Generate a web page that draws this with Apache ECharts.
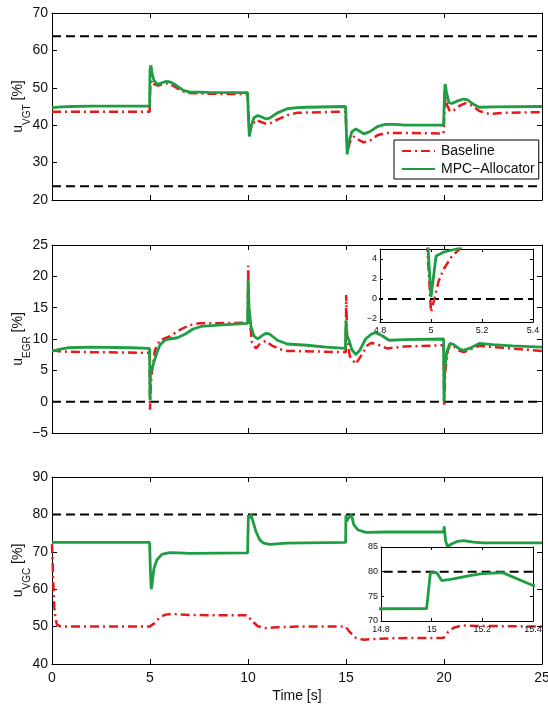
<!DOCTYPE html>
<html>
<head>
<meta charset="utf-8">
<title>u_VGT / u_EGR / u_VGC</title>
<script src="https://cdn.jsdelivr.net/npm/echarts@6.0.0/dist/echarts.min.js"></script>
<style>
html, body { margin: 0; padding: 0; background: #fff; }
#chart { width: 548px; height: 704px; }
</style>
</head>
<body>
<div id="chart"></div>
<script>
// values, pairs of [time s, value %]
var vgt_base = [[0,43.6],[4.98,43.6],[5.02,51],[5.1,52],[5.2,51],[5.4,50.6],[5.7,51],[5.9,51.2],[6.2,50.5],[6.6,49.2],[7,48.6],[8,48.4],[9.98,48.3],
	[10.03,42],[10.08,38],[10.2,40],[10.4,41.4],[10.6,41.0],[10.9,40.4],[11.1,40.4],[11.5,41.5],[12,42.7],[12.5,43.3],[13,43.4],[14.98,43.6],
	[15.03,37],[15.08,33],[15.2,35.5],[15.4,37],[15.6,36.2],[15.9,35.4],[16.2,35.8],[16.6,37.3],[17,37.9],[18,37.9],[19.98,37.8],
	[20.03,45],[20.08,47.8],[20.15,45.5],[20.3,43.7],[20.5,44],[20.8,45.2],[21.1,45.9],[21.4,45.3],[21.8,43.8],[22.3,43.0],[23,43.3],[25,43.5]];
var vgt_mpc = [[0,44.7],[0.5,44.9],[1,45.0],[2,45.1],[4.98,45.1],[5.0,55],[5.05,56],[5.1,54],[5.2,52],[5.35,51],[5.55,51.2],[5.8,51.7],[6.0,51.6],[6.3,50.8],[6.7,49.3],[7.0,48.9],[8,48.8],[9.98,48.7],
	[10.02,42],[10.07,37],[10.15,39.5],[10.3,42],[10.5,42.6],[10.7,42.2],[10.9,41.7],[11.1,41.9],[11.5,43.3],[12,44.4],[12.5,44.7],[13,44.8],[14.98,45.0],
	[15.02,38],[15.06,32.2],[15.12,35],[15.3,38.3],[15.5,39],[15.7,38.4],[15.9,37.7],[16.2,38.2],[16.6,39.6],[17,40.2],[17.5,40.2],[18,40.0],[19.98,40.0],
	[20.02,48],[20.06,51],[20.12,49],[20.25,46],[20.4,45.8],[20.7,46.5],[21,47],[21.2,46.8],[21.5,45.6],[21.8,44.8],[22.5,44.9],[25,45]];
var vgt_limits = [23.7, 63.8];

var egr_base = [[0,8.2],[0.5,8.0],[2,7.9],[4.98,7.8],[5.0,-1.3],[5.015,0.2],[5.03,1.8],[5.05,3.0],[5.08,4.2],[5.12,5.2],[5.25,8.2],[5.5,9.8],[6.0,10.4],[6.5,11.4],[7.0,12.2],[7.5,12.5],[9.99,12.6],
	[10.01,21.7],[10.06,14],[10.2,9.5],[10.4,8.5],[10.6,9.2],[10.9,9.7],[11.2,9.0],[11.6,8.4],[12,8.1],[14.99,7.9],
	[15.01,17],[15.06,10],[15.2,7.2],[15.5,6.0],[15.8,7.5],[16.1,9.0],[16.3,9.4],[16.7,9.0],[17.1,8.5],[18,8.8],[19.98,9.0],
	[20.01,-0.5],[20.07,5],[20.2,8.2],[20.3,9.0],[20.5,8.8],[20.8,8.1],[21.0,7.9],[21.3,8.3],[21.8,8.9],[23,8.6],[25,8.1]];
var egr_mpc = [[0,8.0],[0.3,8.3],[0.8,8.6],[2,8.7],[4,8.6],[4.98,8.5],[5.0,0.2],[5.02,4.3],[5.05,4.7],[5.1,5.0],[5.2,6.3],[5.35,7.8],[5.5,9.0],[5.75,9.8],[6.0,10.0],[6.4,10.2],[6.8,10.8],[7.2,11.6],[7.6,12.0],[8.5,12.2],[9.98,12.5],
	[10.01,19.5],[10.05,15],[10.15,12],[10.3,10.5],[10.5,10.0],[10.7,10.5],[10.9,10.9],[11.1,10.8],[11.5,9.8],[12,9.2],[13,9.0],[14,8.7],[14.97,8.5],
	[15.0,13],[15.04,10.6],[15.15,9.8],[15.3,8.3],[15.5,7.5],[15.7,8.2],[16.0,10.0],[16.3,10.8],[16.5,11.0],[16.8,10.6],[17.2,9.8],[18,9.9],[19.98,10.0],
	[20.0,0.1],[20.04,5.5],[20.15,8.0],[20.3,9.3],[20.5,9.1],[20.8,8.4],[21.0,8.2],[21.3,8.5],[21.8,9.3],[22.5,9.1],[23.5,8.9],[25,8.7]];
var egr_limits = [0];

var vgc_base = [[0,72],[0.04,66],[0.08,60],[0.12,55],[0.18,52],[0.25,50.6],[0.4,50.1],[0.6,50],[4.98,50],[5.2,50.8],[5.5,52.5],[5.8,53.2],[6.1,53.4],[7,53.1],[9.98,53],
	[10.2,51.5],[10.5,50.1],[10.9,49.6],[11.5,49.8],[12.5,50],[14.98,50],[15.2,48.5],[15.5,47],[15.9,46.5],[16.5,46.7],[17.5,46.9],[19.98,47],
	[20.2,48.5],[20.5,49.7],[20.9,50.3],[21.5,50.2],[25,50]];
var vgc_mpc = [[0,72.5],[4.98,72.5],[5.02,65],[5.06,60],[5.1,61],[5.2,65.5],[5.35,67.8],[5.6,69.3],[6.0,69.8],[6.5,69.7],[7,69.6],[9.98,69.7],
	[10.02,79.8],[10.08,79],[10.15,80],[10.22,79.5],[10.4,75.5],[10.6,73.2],[10.8,72.3],[11.1,72.0],[12,72.3],[14.98,72.5],
	[14.995,79.8],[15.02,79.8],[15.04,78.2],[15.08,78.5],[15.15,79.2],[15.2,79.6],[15.28,79.8],[15.4,77.2],[15.6,75.9],[16,75.2],[17,75.3],[19.98,75.3],
	[20.01,76.8],[20.08,73],[20.18,71.3],[20.35,72],[20.7,72.8],[21,73],[21.5,72.6],[22,72.4],[25,72.4]];
var vgc_limits = [80];

var time_range = [0, 25];
var egr_zoom_x = [4.8, 5, 5.2, 5.4];
var egr_zoom_y = [-2, 0, 2, 4];
var vgc_zoom_x = [14.8, 15, 15.2, 15.4];
var vgc_zoom_y = [70, 75, 80, 85];

var FONT = '"Liberation Sans", Arial, Helvetica, sans-serif';
var RED = '#e8191c';
var GREEN = '#1f9d43';

window.onload = function(){
	var x_axes = [];
	var y_axes = [];
	var series = [];

	function fmt(v){
		return String(+v.toFixed(2)).replace('-', '\u2212');
	}

	// one box: bottom/left axes carry labels, top/right only the inward ticks
	function add_box(grid, xc, yc, big, z){
		var tick = {inside: true, length: big ? 5 : 3, lineStyle: {color: '#000', width: 1}};
		var line = {show: true, onZero: false, lineStyle: {color: '#000', width: 1}};
		var fs = big ? 14 : 9;
		var xt = JSON.parse(JSON.stringify(tick));
		var yt = JSON.parse(JSON.stringify(tick));
		if (xc.custom) xt.customValues = xc.custom;
		if (yc.custom) yt.customValues = yc.custom;
		var xl = {show: xc.labels, fontSize: fs, color: '#111', fontFamily: FONT, margin: big ? 7 : 4, formatter: fmt};
		var yl = {show: true, fontSize: fs, color: '#111', fontFamily: FONT, margin: big ? 4 : 3, formatter: fmt};
		if (xc.custom) xl.customValues = xc.custom;
		if (yc.custom) yl.customValues = yc.custom;
		var xi = x_axes.length;
		var yi = y_axes.length;
		x_axes.push({type: 'value', gridIndex: grid, position: 'bottom', min: xc.min, max: xc.max, interval: xc.interval, z: z,
			axisLine: line, axisTick: xt, axisLabel: xl, splitLine: {show: false},
			name: xc.name || '', nameLocation: 'middle', nameGap: 25, nameMoveOverlap: false,
			nameTextStyle: {fontSize: 14, color: '#111', fontFamily: FONT}});
		x_axes.push({type: 'value', gridIndex: grid, position: 'top', min: xc.min, max: xc.max, interval: xc.interval, z: z,
			axisLine: line, axisTick: xt, axisLabel: {show: false}, splitLine: {show: false}});
		y_axes.push({type: 'value', gridIndex: grid, position: 'left', min: yc.min, max: yc.max, interval: yc.interval, z: z,
			axisLine: line, axisTick: yt, axisLabel: yl, splitLine: {show: false},
			name: yc.name || '', nameLocation: 'middle', nameRotate: 90, nameGap: 20, nameMoveOverlap: false,
			nameTextStyle: {fontFamily: FONT, color: '#111', rich: {
				u: {fontSize: 14, fontFamily: FONT, color: '#111'},
				s: {fontSize: 10, fontFamily: FONT, color: '#111', padding: [17, 0, 0, 0]}
			}}});
		y_axes.push({type: 'value', gridIndex: grid, position: 'right', min: yc.min, max: yc.max, interval: yc.interval, z: z,
			axisLine: line, axisTick: yt, axisLabel: {show: false}, splitLine: {show: false}});
		return [xi, yi];
	}

	function add_lines(ax, base, mpc, limits, z){
		limits.forEach(function(v){
			series.push({name: 'limit', type: 'line', xAxisIndex: ax[0], yAxisIndex: ax[1], z: z,
				data: [[time_range[0], v], [time_range[1], v]], symbol: 'none', silent: true,
				lineStyle: {color: '#000', width: 2, type: [9, 5]}});
		});
		series.push({name: 'Baseline', type: 'line', xAxisIndex: ax[0], yAxisIndex: ax[1], z: z,
			data: base, symbol: 'none', itemStyle: {color: RED},
			lineStyle: {color: RED, width: 2.5, type: [9, 4, 2, 4]}});
		series.push({name: 'MPC\u2212Allocator', type: 'line', xAxisIndex: ax[0], yAxisIndex: ax[1], z: z,
			data: mpc, symbol: 'none', itemStyle: {color: GREEN},
			lineStyle: {color: GREEN, width: 2.8}});
	}

	var grids = [
		{left: 52, top: 13, width: 490, height: 187, outerBoundsMode: 'none'},
		{left: 52, top: 245, width: 490, height: 188, outerBoundsMode: 'none'},
		{left: 52, top: 477, width: 490, height: 187, outerBoundsMode: 'none'},
		{left: 380, top: 249, width: 153, height: 73, outerBoundsMode: 'none', show: true, backgroundColor: '#fff', borderWidth: 0, z: 3},
		{left: 381, top: 547, width: 152, height: 74, outerBoundsMode: 'none', show: true, backgroundColor: '#fff', borderWidth: 0, z: 3}
	];

	var a0 = add_box(0, {min: time_range[0], max: time_range[1], interval: 5, labels: false},
		{min: 20, max: 70, interval: 10, name: '{u|u}{s|VGT}{u| [%]}'}, true, 0);
	var a1 = add_box(1, {min: time_range[0], max: time_range[1], interval: 5, labels: false},
		{min: -5, max: 25, interval: 5, name: '{u|u}{s|EGR}{u| [%]}'}, true, 0);
	var a2 = add_box(2, {min: time_range[0], max: time_range[1], interval: 5, labels: true, name: 'Time [s]'},
		{min: 40, max: 90, interval: 10, name: '{u|u}{s|VGC}{u| [%]}'}, true, 0);
	var a3 = add_box(3, {min: 4.8, max: 5.4, labels: true, custom: egr_zoom_x},
		{min: -2.3, max: 5, custom: egr_zoom_y}, false, 4);
	var a4 = add_box(4, {min: 14.8, max: 15.4, labels: true, custom: vgc_zoom_x},
		{min: 70, max: 85, custom: vgc_zoom_y}, false, 4);

	add_lines(a0, vgt_base, vgt_mpc, vgt_limits, 2);
	add_lines(a1, egr_base, egr_mpc, egr_limits, 2);
	add_lines(a2, vgc_base, vgc_mpc, vgc_limits, 2);
	add_lines(a3, egr_base, egr_mpc, egr_limits, 5);
	add_lines(a4, vgc_base, vgc_mpc, vgc_limits, 5);

	var chart = echarts.init(document.getElementById('chart'), null, {renderer: 'canvas'});
	chart.setOption({
		animation: false,
		backgroundColor: '#fff',
		textStyle: {fontFamily: FONT},
		grid: grids,
		xAxis: x_axes,
		yAxis: y_axes,
		legend: {
			data: ['Baseline', 'MPC\u2212Allocator'],
			orient: 'vertical',
			left: 394, top: 140,
			padding: [4, 4, 3, 7],
			itemWidth: 33, itemHeight: 14, itemGap: 4,
			borderColor: '#000', borderWidth: 1, borderRadius: 0,
			backgroundColor: '#fff',
			selectedMode: false,
			itemStyle: {opacity: 0},
			textStyle: {fontSize: 14, color: '#111', fontFamily: FONT, padding: [0, 0, 0, 1]}
		},
		series: series
	});
}
</script>
</body>
</html>
